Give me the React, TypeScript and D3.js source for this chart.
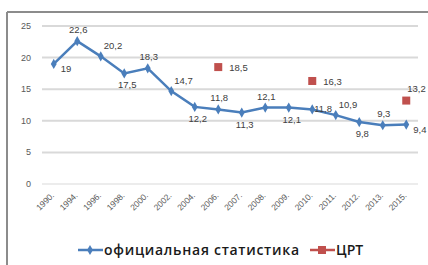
import { FC } from 'react';
import * as d3 from 'd3';

const years = ['1990', '1994', '1996', '1998', '2000', '2002', '2004', '2006', '2007', '2008', '2009', '2010', '2011', '2012', '2013', '2015'];
const official = [19, 22.6, 20.2, 17.5, 18.3, 14.7, 12.2, 11.8, 11.3, 12.1, 12.1, 11.8, 10.9, 9.8, 9.3, 9.4];
const crtYears = ['2006', '2010', '2015'];
const crtValues = [18.5, 16.3, 13.2];
const yTicks = [0, 5, 10, 15, 20, 25];

// where each data label sits relative to its point
const officialLabelPos = ['right', 'above', 'aboveRight', 'below', 'above', 'aboveRight', 'below', 'above', 'below', 'above', 'below', 'onRight', 'aboveRight', 'below', 'above', 'right'];
const crtLabelPos = ['crtRight', 'crtRight', 'crtAbove'];

const offsets: Record<string, [number, number, string]> = {
  right: [7, 8, 'start'],
  above: [1, -8, 'middle'],
  aboveRight: [3, -7, 'start'],
  below: [3, 15, 'middle'],
  onRight: [2, 3, 'start'],
  crtRight: [11, 4, 'start'],
  crtAbove: [1, -9, 'start'],
};

const fmt = (v: number) => String(v).replace('.', ',');

const App: FC = () => {
  const width = 428;
  const height = 265;
  const margin = { top: 26, right: 10, bottom: 81, left: 42 };

  const x = d3.scaleBand().domain(years).range([margin.left, width - margin.right]);
  const y = d3.scaleLinear().domain([0, 25]).range([height - margin.bottom, margin.top]);
  const cx = (yr: string) => (x(yr) as number) + x.bandwidth() / 2;

  const line = d3
    .line<number>()
    .x((_, i) => cx(years[i]))
    .y((d) => y(d));

  const diamond = d3.symbol(d3.symbolDiamond, 30)();
  const labelFont = 'Liberation Sans, Arial, sans-serif';

  return (
    <svg width={width} height={height} style={{ position: 'absolute', left: 0, top: 0 }}>
      <rect x={0} y={0} width={width} height={height} fill='#fff' />
      {/* frame */}
      <line x1={7} x2={width} y1={12} y2={12} stroke='#8c8c8c' strokeWidth={2} />
      <line x1={7} x2={7} y1={12} y2={height} stroke='#8c8c8c' strokeWidth={2} />

      {/* grid + y labels */}
      {yTicks.map((t) => (
        <g key={t}>
          <line x1={margin.left} x2={width - margin.right} y1={y(t)} y2={y(t)} stroke='#d9d9d9' strokeWidth={t === 0 ? 1 : 2} />
          <text x={31} y={y(t) + 3} textAnchor='end' fontSize={9} fill='#595959' fontFamily={labelFont}>
            {t}
          </text>
        </g>
      ))}

      {/* x labels */}
      {years.map((yr) => (
        <text
          key={yr}
          transform={`translate(${cx(yr) + 1},${y(0) + 12}) rotate(-45)`}
          textAnchor='end'
          fontSize={8.5}
          fill='#595959'
          fontFamily={labelFont}
        >
          {yr + '.'}
        </text>
      ))}

      {/* official line */}
      <path d={line(official) || ''} fill='none' stroke='#4a7ebb' strokeWidth={2.5} />
      {official.map((v, i) => (
        <path key={i} d={diamond || ''} transform={`translate(${cx(years[i])},${y(v)})`} fill='#4a7ebb' />
      ))}
      {official.map((v, i) => {
        const [dx, dy, anchor] = offsets[officialLabelPos[i]];
        return (
          <text key={i} x={cx(years[i]) + dx} y={y(v) + dy} textAnchor={anchor} fontSize={9.5} fill='#404040' fontFamily={labelFont}>
            {fmt(v)}
          </text>
        );
      })}

      {/* CRT points */}
      {crtValues.map((v, i) => (
        <rect key={i} x={cx(crtYears[i]) - 4} y={y(v) - 4} width={8} height={8} fill='#c0504d' />
      ))}
      {crtValues.map((v, i) => {
        const [dx, dy, anchor] = offsets[crtLabelPos[i]];
        return (
          <text key={i} x={cx(crtYears[i]) + dx} y={y(v) + dy} textAnchor={anchor} fontSize={9.5} fill='#404040' fontFamily={labelFont}>
            {fmt(v)}
          </text>
        );
      })}

      {/* legend */}
      <g fontFamily='Open Sans, sans-serif' fontSize={14} fill='#1a1a1a'>
        <line x1={78} x2={103} y1={250} y2={250} stroke='#4a7ebb' strokeWidth={2.5} />
        <path d={diamond || ''} transform='translate(90,250)' fill='#4a7ebb' />
        <text x={104} y={255} fontWeight={600} textLength={195} lengthAdjust='spacing'>
          официальная статистика
        </text>
        <line x1={310} x2={335} y1={250} y2={250} stroke='#c0504d' strokeWidth={2.5} />
        <rect x={318} y={246} width={8} height={8} fill='#c0504d' />
        <text x={336} y={255} fontWeight={600}>ЦРТ</text>
      </g>
    </svg>
  );
};

export default App;
